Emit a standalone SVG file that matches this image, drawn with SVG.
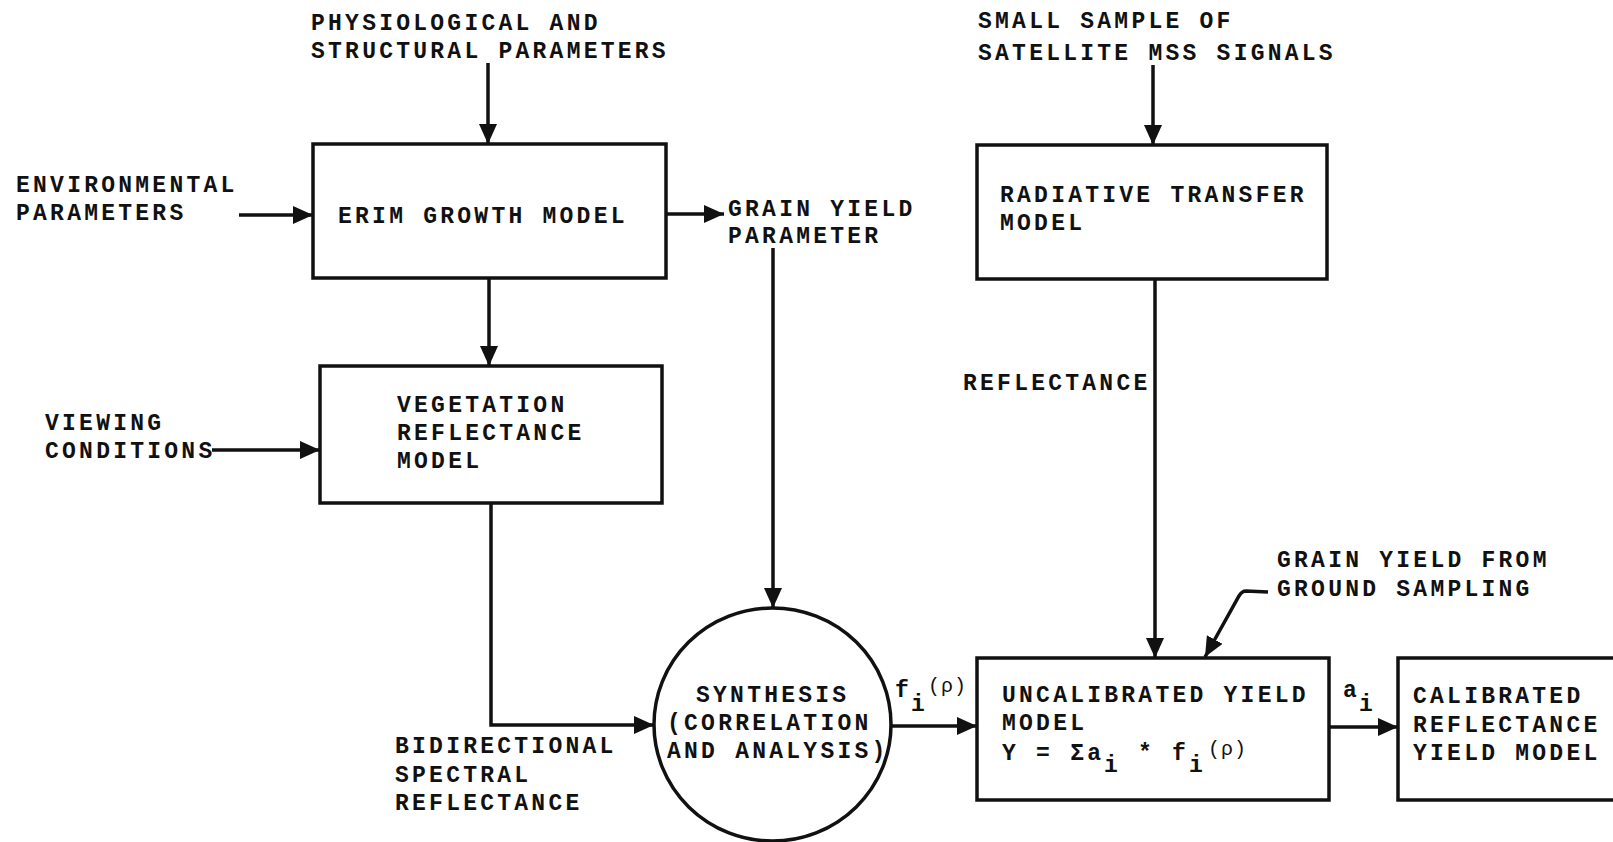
<svg xmlns="http://www.w3.org/2000/svg" width="1613" height="842" viewBox="0 0 1613 842">
<defs>
<style>
text{font-family:"Liberation Mono","Courier New",monospace;font-weight:bold;font-size:23px;letter-spacing:3.24px;fill:#111}
.sm{font-size:20px;font-weight:normal;letter-spacing:1px}
.box{fill:none;stroke:#111;stroke-width:3.5}
.ln{fill:none;stroke:#111;stroke-width:3.5}
</style>
<marker id="ah" markerUnits="userSpaceOnUse" markerWidth="22" markerHeight="22" refX="20" refY="9" orient="auto">
<path d="M0,0 L20,9 L0,18 Z" fill="#111"/>
</marker>
</defs>
<rect width="1613" height="842" fill="#fff"/>

<g id="labels">
<text x="311" y="30">PHYSIOLOGICAL AND</text>
<text x="311" y="58">STRUCTURAL PARAMETERS</text>
<text x="16" y="192">ENVIRONMENTAL</text>
<text x="16" y="220">PARAMETERS</text>
<text x="728" y="216">GRAIN YIELD</text>
<text x="728" y="243">PARAMETER</text>
<text x="45" y="430">VIEWING</text>
<text x="45" y="458">CONDITIONS</text>
<text x="978" y="28">SMALL SAMPLE OF</text>
<text x="978" y="60">SATELLITE MSS SIGNALS</text>
<text x="963" y="390">REFLECTANCE</text>
<text x="395" y="753">BIDIRECTIONAL</text>
<text x="395" y="782">SPECTRAL</text>
<text x="395" y="810">REFLECTANCE</text>
<text x="1277" y="567">GRAIN YIELD FROM</text>
<text x="1277" y="596">GROUND SAMPLING</text>
<text x="895" y="697">f</text><text x="911" y="711">i</text><text class="sm" x="928" y="692">(ρ)</text>
<text x="1343" y="697">a</text><text x="1359" y="711">i</text>
</g>

<g id="erim">
<rect class="box" x="313" y="144" width="353" height="134"/>
<text x="338" y="223">ERIM GROWTH MODEL</text>
</g>

<g id="vrm">
<rect class="box" x="320" y="366" width="342" height="137"/>
<text x="397" y="412">VEGETATION</text>
<text x="397" y="440">REFLECTANCE</text>
<text x="397" y="468">MODEL</text>
</g>

<g id="rtm">
<rect class="box" x="977" y="145" width="350" height="134"/>
<text x="1000" y="202">RADIATIVE TRANSFER</text>
<text x="1000" y="230">MODEL</text>
</g>

<g id="synthesis">
<ellipse class="box" cx="772.5" cy="724.5" rx="118.5" ry="116.5"/>
<text x="696" y="702">SYNTHESIS</text>
<text x="667" y="730">(CORRELATION</text>
<text x="667" y="758">AND ANALYSIS)</text>
</g>

<g id="uncal">
<rect class="box" x="977" y="658" width="352" height="142"/>
<text x="1002" y="702">UNCALIBRATED YIELD</text>
<text x="1002" y="730">MODEL</text>
<text x="1002" y="760">Y = Σa</text><text x="1104" y="772">i</text><text x="1138" y="760">*</text><text x="1172" y="760">f</text><text x="1189" y="772">i</text><text class="sm" x="1208" y="755">(ρ)</text>
</g>

<g id="cal">
<rect class="box" x="1398" y="658" width="260" height="142"/>
<text x="1413" y="703">CALIBRATED</text>
<text x="1413" y="732">REFLECTANCE</text>
<text x="1413" y="760">YIELD MODEL</text>
</g>

<g id="connectors">
<line class="ln" x1="488" y1="63" x2="488" y2="144" marker-end="url(#ah)"/>
<line class="ln" x1="239" y1="215" x2="313" y2="215" marker-end="url(#ah)"/>
<line class="ln" x1="666" y1="214" x2="724" y2="214" marker-end="url(#ah)"/>
<line class="ln" x1="489" y1="278" x2="489" y2="366" marker-end="url(#ah)"/>
<line class="ln" x1="212" y1="450" x2="320" y2="450" marker-end="url(#ah)"/>
<line class="ln" x1="773" y1="248" x2="773" y2="608" marker-end="url(#ah)"/>
<polyline class="ln" points="491,503 491,725 654,725" marker-end="url(#ah)"/>
<line class="ln" x1="1153" y1="65" x2="1153" y2="145" marker-end="url(#ah)"/>
<line class="ln" x1="1155" y1="279" x2="1155" y2="658" marker-end="url(#ah)"/>
<line class="ln" x1="891" y1="726" x2="977" y2="726" marker-end="url(#ah)"/>
<line class="ln" x1="1329" y1="727" x2="1398" y2="727" marker-end="url(#ah)"/>
<path class="ln" d="M1268,592 L1246,591 Q1242,591 1239,596 L1205,657" marker-end="url(#ah)"/>
</g>
</svg>
